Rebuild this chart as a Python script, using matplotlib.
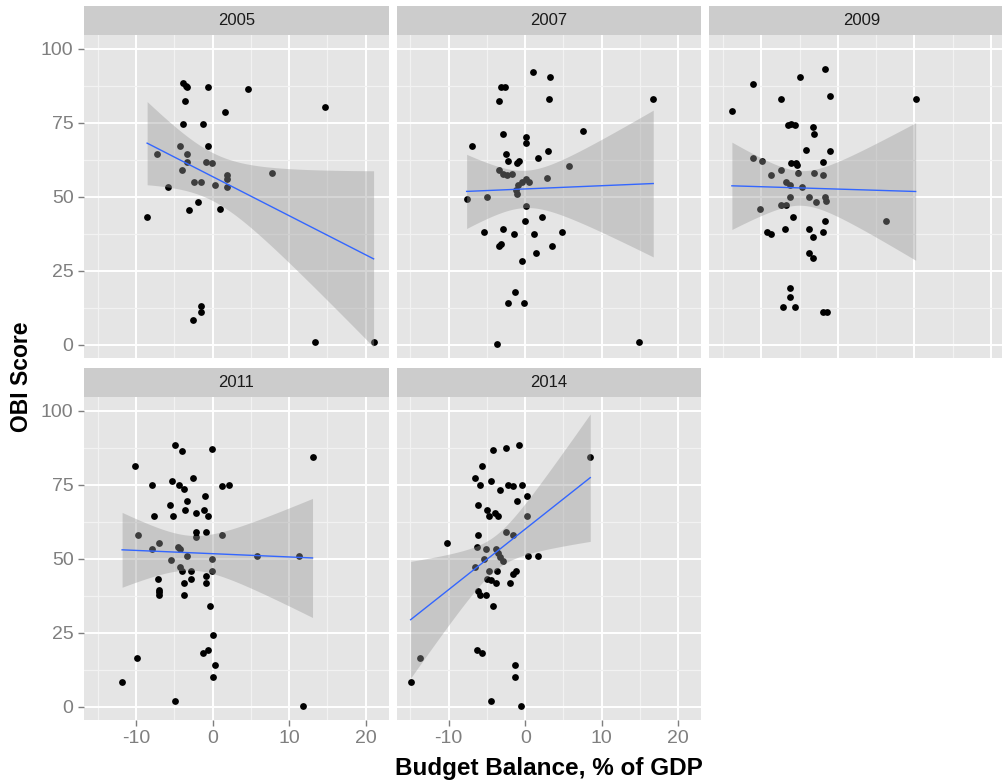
import numpy as np
import matplotlib
matplotlib.use("Agg")
import matplotlib.pyplot as plt

plt.rcParams['font.family'] = ['Liberation Sans', 'DejaVu Sans']
plt.rcParams['axes.unicode_minus'] = False

# budget balance (% of GDP) and OBI score per survey year
x_2005 = [-3.84, -3.49, -3.32, -0.65, 4.65, -3.58, 14.68, 1.65, -3.8, -1.3,
          -4.27, -0.61, -7.24, -3.32, -3.36, -0.88, -0.13, -4.01, 7.79, 1.87,
          1.87, -2.44, -1.49, 0.34, 1.87, -5.84, -1.96, -3.14, 0.99, -8.55,
          -1.49, -1.49, -2.61, 13.37, 21.05]
obi_2005 = [88.5, 87.6, 87.0, 87.0, 86.5, 82.5, 80.3, 78.6, 74.5, 74.5,
            67.1, 67.1, 64.3, 64.3, 61.8, 61.9, 61.3, 59.1, 57.9, 57.3,
            56.1, 55.1, 55.1, 54.0, 53.2, 53.4, 48.3, 45.4, 46.0, 43.1,
            13.2, 11.1, 8.2, 0.8, 0.8]

x_2007 = [0.96, 3.27, -3.2, -2.7, 3.05, -3.4, 16.73, 7.5, -2.92, 0.05,
          0.05, -7.0, 3.0, -2.48, 1.66, -2.22, -1.13, -0.78, 5.75, -3.49,
          -2.95, -2.43, -1.78, 2.8, 0.09, 0.52, -0.47, -0.92, -1.22, -1.05,
          -7.66, -4.97, 0.05, 2.14, 0.0, -5.4, -2.92, -1.52, 1.18, 4.84,
          -3.18, -3.4, 3.49, 1.4, -0.39, -1.31, -2.26, -0.17, -3.66, 14.9]
obi_2007 = [92.2, 90.5, 87.1, 87.1, 83.1, 82.5, 83.1, 72.3, 71.1, 70.1,
            68.2, 67.1, 65.4, 64.3, 63.1, 62.0, 61.4, 62.0, 60.3, 58.9,
            57.8, 57.3, 57.8, 56.2, 56.1, 55.0, 54.9, 54.1, 52.4, 51.1,
            49.4, 49.9, 47.0, 43.1, 41.9, 38.0, 39.1, 37.4, 37.4, 38.0,
            34.1, 33.2, 33.4, 31.0, 28.2, 17.9, 14.0, 14.0, 0.2, 0.8]

x_2009 = [-1.74, -4.97, -11.1, -7.49, -1.05, 10.16, -13.86, -6.54, -6.09, -5.62,
          -3.31, -3.09, -4.22, -1.05, -11.1, -9.97, -1.96, -6.09, -5.53, -5.31,
          -7.45, -8.8, -5.18, -3.09, -1.91, -6.75, -6.31, -4.65, -6.27, -3.74,
          -1.74, -1.52, -2.82, -7.49, -6.75, -10.2, -5.83, 6.27, -1.74, -9.32,
          -8.8, -6.97, -3.83, -1.96, -3.31, -3.83, -3.31, -6.31, -6.31, -7.19,
          -5.57, -1.96, -1.48]
obi_2009 = [93.3, 90.4, 88.3, 83.1, 84.2, 83.1, 79.1, 74.4, 74.7, 74.4,
            73.5, 71.1, 65.9, 65.4, 63.1, 62.0, 61.9, 61.4, 61.4, 60.6,
            59.1, 57.4, 57.9, 57.9, 57.4, 55.1, 54.1, 53.4, 49.9, 49.9,
            49.9, 48.5, 48.3, 47.1, 47.1, 46.0, 43.1, 41.9, 41.9, 38.1,
            37.3, 39.1, 39.1, 38.0, 36.3, 31.0, 29.3, 19.0, 16.2, 12.9,
            12.9, 11.1, 11.1]

x_2011 = [-4.93, -3.97, -0.09, 13.07, -10.16, -2.61, -7.9, -5.36, -4.44, -3.75,
          1.25, 2.13, -1.0, -3.36, -5.62, -3.58, -1.05, -2.18, -7.67, -5.15,
          -0.61, -2.18, -0.84, -9.73, 1.25, -2.18, -6.98, -7.9, -4.5, -4.24,
          -3.32, 5.83, 11.28, -5.41, -0.09, -4.27, -4.01, -2.84, -0.09, -7.19,
          -2.84, -0.84, -3.79, -0.84, -7.06, -7.06, -7.06, -3.79, -0.35, 0.08,
          -0.61, -1.23, -9.93, 0.3, 0.08, -11.82, -4.93, 11.76]
obi_2011 = [88.4, 86.6, 87.2, 84.3, 81.4, 77.4, 75.1, 76.4, 75.1, 73.5,
            74.6, 75.1, 71.3, 69.5, 68.3, 66.6, 66.6, 65.5, 64.4, 64.4,
            64.4, 59.2, 59.2, 58.1, 58.1, 57.4, 55.3, 53.4, 54.0, 53.4,
            51.1, 51.1, 51.1, 49.5, 49.9, 47.2, 46.0, 46.0, 46.0, 43.2,
            43.2, 44.3, 41.9, 41.9, 39.5, 38.7, 37.9, 37.9, 34.0, 24.3,
            19.2, 18.1, 16.4, 14.1, 10.0, 8.4, 2.0, 0.3]

x_2014 = [-4.26, -2.48, -0.86, 8.5, -5.62, -6.58, -4.48, -5.92, -2.26, -1.57,
          -0.39, -3.35, 0.26, -1.13, -6.14, -4.97, -3.96, -3.61, -4.75, 0.26,
          -2.48, -1.65, -6.14, -10.2, -6.35, -5.18, -3.83, -3.61, 0.31, 1.7,
          -3.31, -2.88, -5.4, -6.58, -4.75, -3.74, -1.26, -1.57, -4.97, -4.48,
          -3.83, -2.0, -6.14, -5.92, -5.18, -4.26, -6.35, -5.62, -13.8, -1.31,
          -1.31, -14.98, -4.52, -0.6]
obi_2014 = [86.7, 87.3, 88.4, 84.3, 81.4, 77.4, 76.3, 75.1, 75.1, 74.6,
            75.1, 73.4, 71.2, 69.5, 68.3, 66.6, 65.4, 64.5, 64.5, 64.4,
            59.2, 58.1, 58.1, 55.3, 54.0, 53.4, 53.4, 52.1, 51.1, 51.1,
            50.5, 49.4, 49.9, 47.2, 46.0, 46.0, 46.0, 44.9, 43.2, 42.8,
            41.9, 41.9, 39.1, 37.9, 37.9, 34.0, 19.2, 18.1, 16.4, 14.1,
            10.0, 8.4, 2.0, 0.3]

years = ['2005', '2007', '2009', '2011', '2014']
xs = [x_2005, x_2007, x_2009, x_2011, x_2014]
ys = [obi_2005, obi_2007, obi_2009, obi_2011, obi_2014]


def t975(df):
    # Cornish-Fisher expansion of the 97.5% t quantile
    z = 1.959964
    return (z + (z**3 + z) / (4 * df) + (5 * z**5 + 16 * z**3 + 3 * z) / (96 * df**2)
            + (3 * z**7 + 19 * z**5 + 17 * z**3 - 15 * z) / (384 * df**3))


def lm_band(x, y, n=80):
    x = np.asarray(x, float)
    y = np.asarray(y, float)
    slope, icpt = np.polyfit(x, y, 1)
    resid = y - (icpt + slope * x)
    df = len(x) - 2
    s = np.sqrt(np.sum(resid**2) / df)
    grid = np.linspace(x.min(), x.max(), n)
    se = s * np.sqrt(1 / len(x) + (grid - x.mean())**2 / np.sum((x - x.mean())**2))
    fit = icpt + slope * grid
    half = t975(df) * se
    return grid, fit, fit - half, fit + half


W, H = 1002.0, 782.0
fig = plt.figure(figsize=(W / 100, H / 100), dpi=100)

# panel boxes in pixels: left, top of strip
pw, ph, sh = 304.5, 323.0, 29.0
lefts = [84.0, 396.7, 709.4]
tops = [6.0, 368.0]
slots = [(0, 0), (0, 1), (0, 2), (1, 0), (1, 1)]

xlim = (-16.8, 23.0)
ylim = (-4.5, 104.7)

for i, (row, col) in enumerate(slots):
    l = lefts[col]
    st = tops[row]
    # strip
    sax = fig.add_axes([l / W, 1 - (st + sh) / H, pw / W, sh / H])
    sax.set_facecolor('#CCCCCC')
    sax.set_xticks([])
    sax.set_yticks([])
    for sp in sax.spines.values():
        sp.set_visible(False)
    sax.text(0.5, 0.5, years[i], ha='center', va='center', fontsize=12,
             color='#1A1A1A', transform=sax.transAxes)

    ax = fig.add_axes([l / W, 1 - (st + sh + ph) / H, pw / W, ph / H])
    ax.set_facecolor('#E5E5E5')
    ax.set_xlim(*xlim)
    ax.set_ylim(*ylim)
    ax.set_xticks([-10, 0, 10, 20])
    ax.set_yticks([0, 25, 50, 75, 100])
    ax.set_xticks([-15, -5, 5, 15], minor=True)
    ax.set_yticks([12.5, 37.5, 62.5, 87.5], minor=True)
    ax.grid(True, which='major', color='white', lw=1.4, zorder=0)
    ax.grid(True, which='minor', color='#F2F2F2', lw=0.9, zorder=0)
    ax.set_axisbelow(True)
    for sp in ax.spines.values():
        sp.set_visible(False)

    ax.tick_params(which='minor', length=0)
    ax.tick_params(which='major', length=4.5, width=1.0, color='#7F7F7F',
                   labelcolor='#7F7F7F', labelsize=14, pad=3)
    if col != 0:
        ax.tick_params(axis='y', length=0, labelleft=False)
    if row == 0:
        ax.tick_params(axis='x', length=0, labelbottom=False)

    ax.scatter(xs[i], ys[i], s=24, color='black', lw=0, zorder=2)
    grid, fit, lo, hi = lm_band(xs[i], ys[i])
    ax.fill_between(grid, lo, hi, color='#999999', alpha=0.4, lw=0, zorder=3)
    ax.plot(grid, fit, color='#3366FF', lw=1.0, zorder=4)

fig.text(548.7 / W, 1 - 769 / H, 'Budget Balance, % of GDP', ha='center', va='center',
         fontsize=17.5, fontweight='bold', color='black')
fig.text(22 / W, 1 - 376.5 / H, 'OBI Score', ha='center', va='center', rotation=90,
         fontsize=16.5, fontweight='bold', color='black')

fig.savefig('out.png', dpi=100)
